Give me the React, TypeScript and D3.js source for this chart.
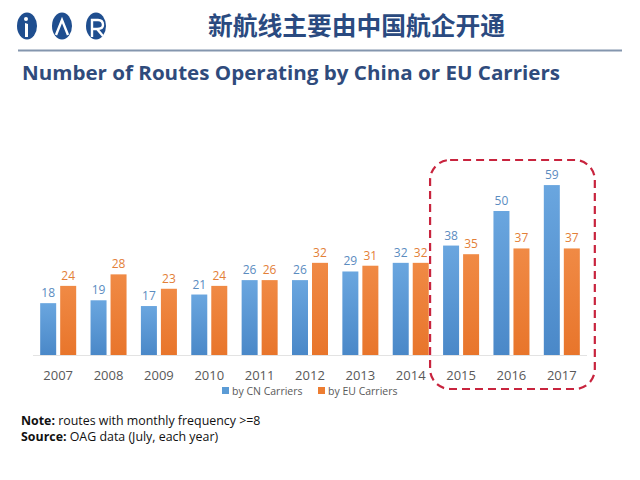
import React, { useEffect } from "react";
import * as d3 from "d3";

const years = ["2007", "2008", "2009", "2010", "2011", "2012", "2013", "2014", "2015", "2016", "2017"];
const cnValues = [18, 19, 17, 21, 26, 26, 29, 32, 38, 50, 59];
const euValues = [24, 28, 23, 24, 26, 32, 31, 32, 35, 37, 37];
const seriesKeys = ["cn", "eu"];
const seriesNames = ["by CN Carriers", "by EU Carriers"];
const highlightYears = ["2015", "2016", "2017"];

const W = 640;
const H = 480;
const FONT = "'Open Sans', 'Liberation Sans', sans-serif";

export default function App() {
  useEffect(() => {
    document.body.style.margin = "0";
  }, []);

  const x = d3.scaleBand<string>().domain(years).range([33, 587]).paddingInner(0.285).paddingOuter(0.1425);
  const xInner = d3.scaleBand<string>().domain(seriesKeys).range([0, x.bandwidth()]).paddingInner(0.2);
  const baseY = 355;
  const y = d3.scaleLinear().domain([0, 60]).range([baseY, baseY - 60 * 2.88]);

  const seriesVals: Record<string, number[]> = { cn: cnValues, eu: euValues };
  const barFill: Record<string, string> = { cn: "url(#gBlue)", eu: "url(#gOrange)" };
  const labelFill: Record<string, string> = { cn: "#5B8CBF", eu: "#E38038" };
  const legendFill: Record<string, string> = { cn: "#5B9BD5", eu: "#ED7D31" };

  const hx0 = (x(highlightYears[0]) as number) - 13;
  const hx1 = (x(highlightYears[highlightYears.length - 1]) as number) + x.bandwidth() + 15;

  return (
    <svg width={W} height={H} style={{ display: "block", position: "absolute", left: 0, top: 0 }} xmlns="http://www.w3.org/2000/svg">
      <defs>
        <linearGradient id="gBlue" x1="0" y1="0" x2="0" y2="1">
          <stop offset="0" stopColor="#6AA6DF" />
          <stop offset="1" stopColor="#4A88C8" />
        </linearGradient>
        <linearGradient id="gOrange" x1="0" y1="0" x2="0" y2="1">
          <stop offset="0" stopColor="#F08A45" />
          <stop offset="1" stopColor="#E8752B" />
        </linearGradient>
      </defs>
      <rect width={W} height={H} fill="#ffffff" />

      {/* logo */}
      <g>
        <ellipse cx={27} cy={26} rx={10} ry={13.5} fill="#1F4E8F" />
        <ellipse cx={62} cy={26} rx={10} ry={13.5} fill="#1F4E8F" />
        <ellipse cx={96} cy={26} rx={10} ry={13.5} fill="#1F4E8F" />
        <circle cx={26} cy={19} r={2} fill="#fff" />
        <path d="M25,23 L25,37 L28,37 L28,24 Z" fill="#fff" />
        <path d="M56,35 L62,20 L68,35" stroke="#fff" strokeWidth={2.4} fill="none" />
        <path d="M92,37 L92,20 L98,20 Q103,20 103,25 Q103,29 97,29 L92,29 M97,29 L103,36" stroke="#fff" strokeWidth={2.4} fill="none" />
      </g>

      <text x={208} y={35} fontFamily="'Noto Sans CJK SC', sans-serif" fontWeight={700} fontSize={24.5} fill="#2A4A80" textLength={297} lengthAdjust="spacingAndGlyphs">
        新航线主要由中国航企开通
      </text>
      <line x1={18} x2={622} y1={50.5} y2={50.5} stroke="#8496AE" strokeWidth={2} />

      <text x={22} y={80} fontFamily={FONT} fontWeight={700} fontSize={20} fill="#2F4B7C" textLength={538} lengthAdjust="spacingAndGlyphs">
        Number of Routes Operating by China or EU Carriers
      </text>

      {/* baseline */}
      <line x1={33} x2={587} y1={baseY + 0.5} y2={baseY + 0.5} stroke="#E3E3E3" strokeWidth={1} />

      {/* bars */}
      {years.map((yr, i) => (
        <g key={yr} transform={`translate(${x(yr)},0)`}>
          {seriesKeys.map((k) => {
            const v = seriesVals[k][i];
            const bx = xInner(k) as number;
            return (
              <g key={k}>
                <rect x={bx} y={y(v)} width={xInner.bandwidth()} height={baseY - y(v)} fill={barFill[k]} />
                <text x={bx + xInner.bandwidth() / 2} y={y(v) - 6} textAnchor="middle" fontFamily={FONT} fontSize={12} fill={labelFill[k]}>
                  {v}
                </text>
              </g>
            );
          })}
          <text x={x.bandwidth() / 2} y={380} textAnchor="middle" fontFamily={FONT} fontSize={13} fill="#595959">
            {yr}
          </text>
        </g>
      ))}

      {/* legend */}
      {seriesKeys.map((k, i) => {
        const lx = i === 0 ? 222 : 318;
        return (
          <g key={k}>
            <rect x={lx} y={387} width={7} height={7} fill={legendFill[k]} />
            <text x={lx + 10} y={394.5} fontFamily={FONT} fontSize={10.5} fill="#595959">
              {seriesNames[i]}
            </text>
          </g>
        );
      })}

      {/* highlight box */}
      <rect x={hx0} y={160} width={hx1 - hx0} height={229} rx={20} ry={20} fill="none" stroke="#C8243E" strokeWidth={2.2} strokeDasharray="8 5" />

      {/* notes */}
      <text x={21} y={424.5} fontFamily={FONT} fontSize={12.4} fill="#111">
        <tspan fontWeight={700}>Note:</tspan>
        <tspan> routes with monthly frequency &gt;=8</tspan>
      </text>
      <text x={21} y={440.5} fontFamily={FONT} fontSize={12.4} fill="#111">
        <tspan fontWeight={700}>Source:</tspan>
        <tspan> OAG data (July, each year)</tspan>
      </text>
    </svg>
  );
}
